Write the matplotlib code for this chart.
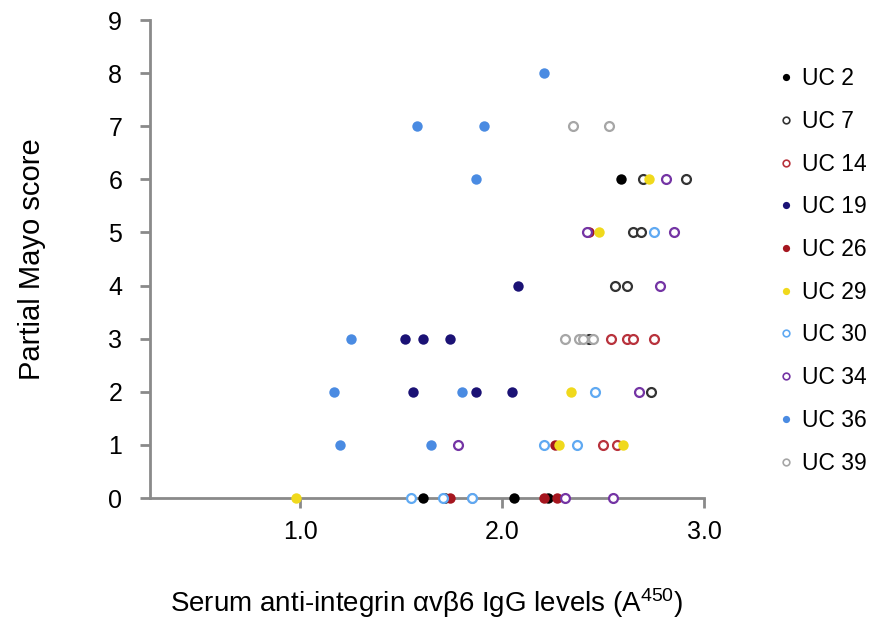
import matplotlib
matplotlib.use("Agg")
import matplotlib.pyplot as plt
from matplotlib.lines import Line2D

plt.rcParams['font.family'] = ['Liberation Sans', 'DejaVu Sans']
plt.rcParams['mathtext.default'] = 'regular'

series_names = ["UC 2", "UC 7", "UC 14", "UC 19", "UC 26", "UC 29", "UC 30", "UC 34", "UC 36", "UC 39"]

uc2_x = [1.61, 1.72, 2.06, 2.23, 2.59]
uc2_y = [0, 0, 0, 0, 6]
uc7_x = [2.74, 2.43, 2.56, 2.62, 2.65, 2.69, 2.70, 2.91]
uc7_y = [2, 3, 4, 4, 5, 5, 6, 6]
uc14_x = [2.50, 2.57, 2.54, 2.62, 2.65, 2.75]
uc14_y = [1, 1, 3, 3, 3, 3]
uc19_x = [1.56, 1.87, 2.05, 1.52, 1.61, 1.74, 2.08]
uc19_y = [2, 2, 2, 3, 3, 3, 4]
uc26_x = [1.74, 1.85, 2.21, 2.27, 2.26, 2.43]
uc26_y = [0, 0, 0, 0, 1, 5]
uc29_x = [0.98, 2.28, 2.60, 2.34, 2.48, 2.73]
uc29_y = [0, 1, 1, 2, 5, 6]
uc30_x = [1.55, 1.71, 1.85, 2.21, 2.37, 2.46, 2.75]
uc30_y = [0, 0, 0, 1, 1, 2, 5]
uc34_x = [2.31, 2.55, 1.78, 2.68, 2.78, 2.42, 2.85, 2.81]
uc34_y = [0, 0, 1, 2, 4, 5, 5, 6]
uc36_x = [1.20, 1.65, 1.17, 1.80, 1.25, 1.87, 1.58, 1.91, 2.21]
uc36_y = [1, 1, 2, 2, 3, 6, 7, 7, 8]
uc39_x = [2.31, 2.38, 2.40, 2.45, 2.35, 2.53]
uc39_y = [3, 3, 3, 3, 7, 7]

xs = [uc2_x, uc7_x, uc14_x, uc19_x, uc26_x, uc29_x, uc30_x, uc34_x, uc36_x, uc39_x]
ys = [uc2_y, uc7_y, uc14_y, uc19_y, uc26_y, uc29_y, uc30_y, uc34_y, uc36_y, uc39_y]
colors = ["#000000", "#333333", "#b8323c", "#1b1275", "#a5161f", "#f0d91c",
          "#5fa9f2", "#7434a4", "#4a8be2", "#a6a6a6"]
filled = [True, False, False, True, True, True, False, False, True, False]

x_ticks = [1.0, 2.0, 3.0]
x_tick_labels = ["1.0", "2.0", "3.0"]
y_ticks = list(range(0, 10))

fig = plt.figure(figsize=(8.73, 6.19), dpi=100)
ax = fig.add_axes([150/873, 1-498/619, (704-150)/873, (498-20)/619])

handles = []
for name, x, y, c, f in zip(series_names, xs, ys, colors, filled):
    if f:
        ax.plot(x, y, 'o', ms=7.5, mfc=c, mec=c, mew=0, clip_on=False, zorder=3)
        h = Line2D([], [], marker='o', ls='none', ms=5.2, mfc=c, mec=c, mew=0)
    else:
        ax.plot(x, y, 'o', ms=6.4, mfc='white', mec=c, mew=1.6, clip_on=False, zorder=3)
        h = Line2D([], [], marker='o', ls='none', ms=4.8, mfc='white', mec=c, mew=1.2)
    handles.append(h)

ax.set_xlim(0.257, 3.0)
ax.set_ylim(0, 9)
ax.set_xticks(x_ticks)
ax.set_xticklabels(x_tick_labels)
ax.set_yticks(y_ticks)

for s in ['top', 'right']:
    ax.spines[s].set_visible(False)
for s in ['left', 'bottom']:
    ax.spines[s].set_color('#8a8a8a')
    ax.spines[s].set_linewidth(2)
ax.tick_params(axis='both', direction='out', length=7, width=2, color='#8a8a8a',
               labelsize=18, labelcolor='black')
ax.tick_params(axis='x', pad=9)
ax.tick_params(axis='y', pad=13)

ax.set_ylabel("Partial Mayo score", fontsize=21)
ax.yaxis.set_label_coords(-0.187, 0.5)
ax.set_xlabel("Serum anti-integrin αvβ6 IgG levels (A$^{450}$)", fontsize=20)
ax.xaxis.set_label_coords(0.5, -0.185)

fig.legend(handles, series_names, loc='upper left', bbox_to_anchor=(768/873, 1-58/619),
           frameon=False, fontsize=16.5, handlelength=0.8, handletextpad=0.3,
           labelspacing=0.86, borderaxespad=0)

fig.savefig("out.png", dpi=100)
